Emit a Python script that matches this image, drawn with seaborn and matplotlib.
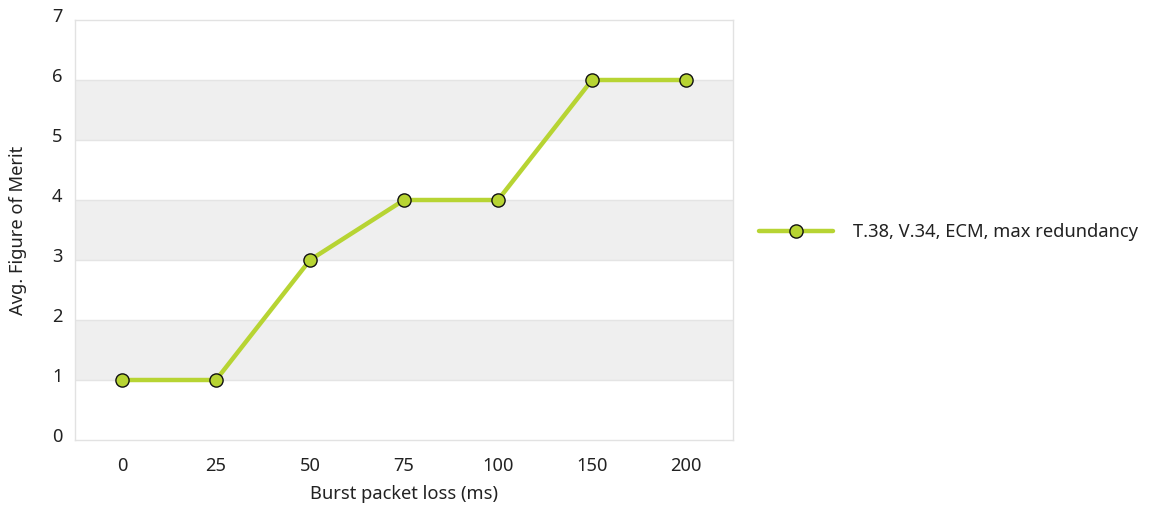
import matplotlib
matplotlib.use("Agg")
import matplotlib.pyplot as plt
import matplotlib.transforms as mtransforms
import seaborn as sns
import pandas as pd

categories = ["0", "25", "50", "75", "100", "150", "200"]
values = [1, 1, 3, 4, 4, 6, 6]
series_name = "T.38, V.34, ECM, max redundancy"
y_ticks = [0, 1, 2, 3, 4, 5, 6, 7]

sns.set_style("white")
plt.rcParams['font.family'] = ['Noto Sans', 'DejaVu Sans']

GREEN = "#b7d433"
TXT = "#222222"
FS = 13.2
df = pd.DataFrame({"pos": range(len(categories)), "val": values, "series": series_name})

fig = plt.figure(figsize=(11.49, 5.11), dpi=100)
ax = fig.add_axes([75/1149, 1-440/511, (733-75)/1149, 420/511])

# alternating bands
for lo in range(len(y_ticks) - 1):
    if lo % 2 == 1:
        ax.axhspan(lo, lo + 1, color="#efefef", zorder=0, lw=0)
for t in y_ticks[1:-1]:
    ax.axhline(t, color="#e4e4e4", lw=1, zorder=0.5)

sns.lineplot(data=df, x="pos", y="val", hue="series", palette=[GREEN], ax=ax,
             lw=3.2, marker="o", markersize=9.5, markerfacecolor=GREEN,
             markeredgecolor="#111111", markeredgewidth=1, zorder=3)

ax.set_xlim(-0.5, len(categories) - 0.5)
ax.set_ylim(0, 7)
ax.set_xticks(range(len(categories)))
ax.set_xticklabels(categories)
ax.set_yticks(y_ticks)
ax.set_yticklabels([str(t) for t in y_ticks])

for s in ax.spines.values():
    s.set_color("#e2e2e2")
    s.set_linewidth(1)

ax.tick_params(axis="x", direction="in", length=8, width=2, color="#b0b0b0",
               labelsize=FS, labelcolor=TXT, pad=12)
ax.tick_params(axis="y", length=0, labelsize=FS, labelcolor=TXT, pad=9)
offset = mtransforms.ScaledTranslation(0, 5/100, fig.dpi_scale_trans)
for lbl in ax.get_yticklabels():
    lbl.set_transform(lbl.get_transform() + offset)

ax.set_xlabel("Burst packet loss (ms)", fontsize=FS, color=TXT)
ax.set_ylabel("Avg. Figure of Merit", fontsize=FS, color=TXT)
ax.xaxis.set_label_coords(0.5, -(494-440)/420, transform=ax.transAxes)
ax.xaxis.label.set_va("center")
ax.yaxis.set_label_coords((18-75)/658, 0.5, transform=ax.transAxes)
ax.yaxis.label.set_va("center")

leg = ax.legend(loc="center left", bbox_to_anchor=(1.0 + (752-733)/658, (440-232)/420),
                frameon=False, fontsize=FS, handlelength=4.0, handletextpad=1.1,
                borderaxespad=0)
for t in leg.get_texts():
    t.set_color(TXT)

fig.savefig("out.png", dpi=100)
